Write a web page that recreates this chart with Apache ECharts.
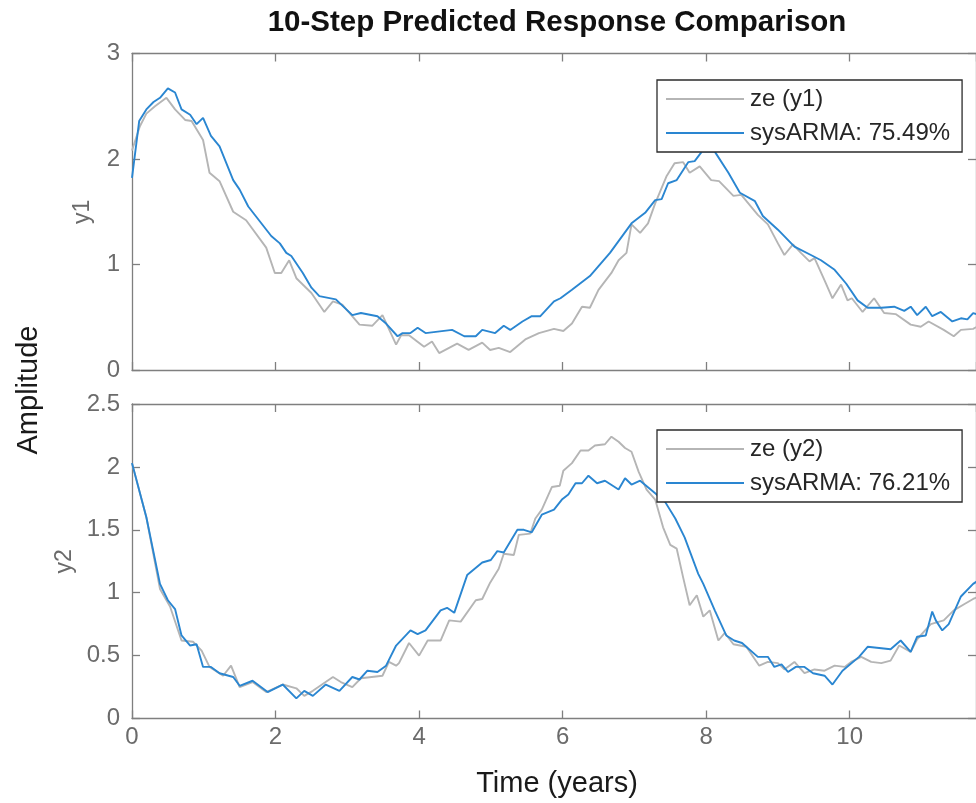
<!DOCTYPE html>
<html>
<head>
<meta charset="utf-8">
<script src="https://cdn.jsdelivr.net/npm/echarts@6/dist/echarts.min.js"></script>
<style>
html,body{margin:0;padding:0;background:#fff;}
#chart{width:976px;height:803px;}
</style>
</head>
<body>
<div id="chart"></div>
<script>
// ---- data (time in years, amplitude) ----
const titleText = '10-Step Predicted Response Comparison';
const xTicks = [0, 2, 4, 6, 8, 10];
const y1Ticks = [0, 1, 2, 3];
const y2Ticks = [0, 0.5, 1, 1.5, 2, 2.5];

const y1Measured = [[0,2.08],[0.11,2.31],[0.2,2.43],[0.32,2.5],[0.48,2.58],[0.6,2.47],[0.74,2.37],[0.83,2.36],[0.99,2.18],[1.08,1.87],[1.22,1.79],[1.41,1.5],[1.59,1.42],[1.87,1.16],[1.99,0.92],[2.08,0.92],[2.19,1.04],[2.29,0.87],[2.5,0.73],[2.68,0.55],[2.8,0.65],[2.93,0.62],[3.17,0.43],[3.35,0.42],[3.49,0.52],[3.68,0.24],[3.75,0.33],[3.86,0.33],[4.07,0.22],[4.18,0.27],[4.28,0.16],[4.53,0.25],[4.69,0.19],[4.88,0.26],[4.99,0.19],[5.11,0.21],[5.27,0.17],[5.48,0.29],[5.67,0.35],[5.88,0.39],[6.01,0.37],[6.13,0.44],[6.27,0.6],[6.38,0.59],[6.5,0.76],[6.68,0.92],[6.78,1.04],[6.89,1.11],[6.96,1.38],[7.08,1.3],[7.19,1.39],[7.29,1.58],[7.45,1.84],[7.56,1.96],[7.68,1.97],[7.77,1.87],[7.91,1.93],[8.07,1.8],[8.18,1.79],[8.38,1.65],[8.49,1.66],[8.72,1.47],[8.86,1.38],[9.0,1.2],[9.09,1.09],[9.21,1.19],[9.32,1.11],[9.44,1.03],[9.51,1.06],[9.65,0.85],[9.76,0.68],[9.88,0.81],[9.97,0.66],[10.03,0.68],[10.18,0.55],[10.34,0.68],[10.48,0.54],[10.64,0.53],[10.85,0.43],[10.99,0.41],[11.1,0.46],[11.31,0.38],[11.45,0.32],[11.55,0.38],[11.72,0.39],[11.8,0.42]];

const y1Predicted = [[0,1.82],[0.1,2.36],[0.2,2.47],[0.3,2.54],[0.39,2.58],[0.5,2.67],[0.6,2.63],[0.69,2.47],[0.81,2.42],[0.9,2.33],[0.99,2.39],[1.1,2.22],[1.22,2.12],[1.41,1.8],[1.5,1.71],[1.62,1.55],[1.78,1.41],[1.94,1.27],[2.06,1.2],[2.15,1.11],[2.22,1.08],[2.38,0.92],[2.5,0.78],[2.61,0.7],[2.84,0.67],[3.07,0.52],[3.19,0.54],[3.42,0.51],[3.54,0.44],[3.7,0.32],[3.77,0.35],[3.88,0.35],[3.98,0.4],[4.09,0.35],[4.46,0.38],[4.63,0.32],[4.79,0.32],[4.88,0.38],[5.06,0.35],[5.18,0.42],[5.27,0.38],[5.44,0.46],[5.57,0.51],[5.69,0.51],[5.88,0.65],[5.97,0.68],[6.13,0.76],[6.38,0.89],[6.66,1.11],[6.96,1.39],[7.15,1.49],[7.29,1.61],[7.38,1.62],[7.47,1.77],[7.59,1.8],[7.75,1.97],[7.84,1.98],[7.94,2.07],[8.12,2.07],[8.31,1.87],[8.47,1.68],[8.68,1.6],[8.79,1.46],[9.0,1.33],[9.23,1.17],[9.46,1.09],[9.6,1.04],[9.79,0.95],[9.95,0.82],[10.11,0.66],[10.25,0.59],[10.44,0.59],[10.62,0.6],[10.76,0.56],[10.85,0.6],[10.94,0.52],[11.06,0.6],[11.15,0.51],[11.27,0.55],[11.43,0.46],[11.55,0.49],[11.64,0.48],[11.72,0.54],[11.8,0.52]];

const y2Measured = [[0,2.03],[0.2,1.6],[0.39,1.03],[0.53,0.89],[0.69,0.62],[0.85,0.61],[0.97,0.54],[1.08,0.41],[1.27,0.34],[1.38,0.42],[1.5,0.25],[1.68,0.29],[1.87,0.21],[2.1,0.27],[2.29,0.24],[2.4,0.18],[2.52,0.22],[2.8,0.33],[2.91,0.29],[3.07,0.25],[3.19,0.32],[3.49,0.34],[3.58,0.45],[3.68,0.42],[3.72,0.44],[3.86,0.6],[4.0,0.5],[4.12,0.62],[4.3,0.62],[4.42,0.78],[4.58,0.77],[4.79,0.94],[4.88,0.95],[4.99,1.08],[5.11,1.19],[5.18,1.31],[5.32,1.3],[5.39,1.46],[5.55,1.47],[5.62,1.59],[5.71,1.66],[5.85,1.84],[5.96,1.85],[6.01,1.97],[6.13,2.03],[6.25,2.13],[6.36,2.13],[6.45,2.17],[6.59,2.18],[6.68,2.24],[6.78,2.2],[6.87,2.15],[6.96,2.12],[7.06,1.96],[7.17,1.82],[7.29,1.74],[7.4,1.52],[7.5,1.38],[7.59,1.35],[7.68,1.12],[7.77,0.9],[7.87,0.98],[7.96,0.81],[8.05,0.86],[8.17,0.62],[8.26,0.68],[8.38,0.59],[8.56,0.57],[8.74,0.42],[8.86,0.45],[9.0,0.44],[9.09,0.39],[9.23,0.45],[9.37,0.36],[9.51,0.39],[9.65,0.38],[9.79,0.42],[9.93,0.41],[10.02,0.45],[10.16,0.49],[10.3,0.45],[10.44,0.44],[10.57,0.46],[10.69,0.58],[10.85,0.53],[10.94,0.63],[11.13,0.75],[11.31,0.78],[11.45,0.86],[11.6,0.91],[11.72,0.95],[11.8,0.97]];

const y2Predicted = [[0,2.03],[0.2,1.6],[0.39,1.07],[0.5,0.94],[0.6,0.87],[0.69,0.66],[0.81,0.58],[0.9,0.59],[0.99,0.41],[1.1,0.41],[1.22,0.36],[1.41,0.33],[1.5,0.26],[1.68,0.3],[1.89,0.21],[2.1,0.27],[2.29,0.16],[2.4,0.22],[2.52,0.18],[2.7,0.27],[2.89,0.22],[3.07,0.33],[3.17,0.31],[3.28,0.38],[3.42,0.37],[3.54,0.42],[3.68,0.58],[3.88,0.7],[3.98,0.67],[4.09,0.7],[4.3,0.86],[4.39,0.88],[4.49,0.84],[4.67,1.14],[4.88,1.24],[5.0,1.26],[5.09,1.33],[5.18,1.32],[5.37,1.5],[5.46,1.5],[5.57,1.48],[5.71,1.62],[5.88,1.66],[5.99,1.74],[6.08,1.78],[6.18,1.87],[6.27,1.87],[6.36,1.93],[6.48,1.87],[6.59,1.89],[6.78,1.82],[6.87,1.91],[6.96,1.86],[7.08,1.89],[7.29,1.79],[7.43,1.72],[7.57,1.59],[7.7,1.44],[7.89,1.15],[7.96,1.07],[8.12,0.86],[8.28,0.66],[8.39,0.62],[8.5,0.6],[8.72,0.49],[8.86,0.49],[8.95,0.41],[9.05,0.43],[9.14,0.37],[9.25,0.41],[9.37,0.41],[9.49,0.36],[9.65,0.34],[9.76,0.27],[9.9,0.38],[10.13,0.49],[10.25,0.57],[10.57,0.55],[10.71,0.62],[10.85,0.53],[10.94,0.65],[11.06,0.66],[11.15,0.85],[11.2,0.78],[11.29,0.7],[11.38,0.75],[11.55,0.97],[11.72,1.07],[11.8,1.1]];

const names = ['ze (y1)', 'sysARMA: 75.49%', 'ze (y2)', 'sysARMA: 76.21%'];

// ---- styling ----
const FONT = 'Liberation Sans, Arial, Helvetica, sans-serif';
const axisCol = '#7f7f7f';
const labelCol = '#6b6b6b';
const grayLine = '#b5b5b5';
const blueLine = '#2a86d1';
const X_MAX = 11.76;

function xAx(gridIndex, pos, showLabels) {
  return {
    type: 'value', gridIndex, position: pos, min: 0, max: X_MAX, interval: 2,
    axisLine: { show: true, onZero: false, lineStyle: { color: axisCol, width: 1.3 } },
    axisTick: { show: true, inside: true, length: 8, lineStyle: { color: axisCol, width: 1.3 } },
    axisLabel: { show: showLabels, margin: 7, color: labelCol, fontSize: 24, fontFamily: FONT,
      showMaxLabel: false },
    splitLine: { show: false }
  };
}
function yAx(gridIndex, pos, max, interval, showLabels, name) {
  return {
    type: 'value', gridIndex, position: pos, min: 0, max, interval,
    name: name || '', nameLocation: 'middle', nameGap: 38, nameRotate: 90,
    nameTextStyle: { color: labelCol, fontSize: 23, fontFamily: FONT },
    axisLine: { show: true, onZero: false, lineStyle: { color: axisCol, width: 1.3 } },
    axisTick: { show: true, inside: true, length: 8, lineStyle: { color: axisCol, width: 1.3 } },
    axisLabel: { show: showLabels, margin: 12, color: labelCol, fontSize: 24, fontFamily: FONT },
    splitLine: { show: false }
  };
}
function legendAt(top, data) {
  return {
    orient: 'vertical', left: 657, top, data,
    backgroundColor: '#fff', borderColor: '#2b2b2b', borderWidth: 1.3,
    padding: [5, 12, 5, 8], itemWidth: 78, itemHeight: 14, itemGap: 6,
    itemStyle: { opacity: 0, borderWidth: 0 },
    textStyle: { color: '#262626', fontSize: 24, fontFamily: FONT, lineHeight: 28, padding: [0, 0, 0, 1] }
  };
}
function line(name, data, color, xi, yi, z) {
  return {
    type: 'line', name, data, xAxisIndex: xi, yAxisIndex: yi,
    symbol: 'none', showSymbol: false, smooth: false, animation: false, z,
    lineStyle: { color, width: 1.9 }, itemStyle: { color },
    emphasis: { disabled: true }
  };
}

const option = {
  animation: false,
  backgroundColor: '#fff',
  grid: [
    { left: 132, top: 53.5, width: 848, height: 316.5, containLabel: false },
    { left: 132, top: 404, width: 848, height: 314.5, containLabel: false }
  ],
  xAxis: [ xAx(0, 'bottom', false), xAx(0, 'top', false), xAx(1, 'bottom', true), xAx(1, 'top', false) ],
  yAxis: [
    yAx(0, 'left', 3, 1, true, 'y1'), yAx(0, 'right', 3, 1, false),
    yAx(1, 'left', 2.5, 0.5, true, 'y2'), yAx(1, 'right', 2.5, 0.5, false)
  ],
  legend: [ legendAt(80, [names[0], names[1]]), legendAt(430, [names[2], names[3]]) ],
  series: [
    line(names[0], y1Measured, grayLine, 0, 0, 2),
    line(names[1], y1Predicted, blueLine, 0, 0, 3),
    line(names[2], y2Measured, grayLine, 2, 2, 2),
    line(names[3], y2Predicted, blueLine, 2, 2, 3)
  ],
  graphic: [
    { type: 'text', x: 557, y: 23, z: 10,
      style: { text: titleText, font: 'bold 29.5px ' + FONT, fill: '#111', textAlign: 'center', textVerticalAlign: 'middle', align: 'center', verticalAlign: 'middle' } },
    { type: 'text', x: 29, y: 390, rotation: Math.PI / 2, z: 10,
      style: { text: 'Amplitude', font: '29px ' + FONT, fill: '#1a1a1a', textAlign: 'center', textVerticalAlign: 'middle', align: 'center', verticalAlign: 'middle' } },
    { type: 'text', x: 557, y: 784, z: 10,
      style: { text: 'Time (years)', font: '29px ' + FONT, fill: '#1a1a1a', textAlign: 'center', textVerticalAlign: 'middle', align: 'center', verticalAlign: 'middle' } }
  ]
};

const chart = echarts.init(document.getElementById('chart'), null, { renderer: 'canvas' });
chart.setOption(option);
</script>
</body>
</html>
